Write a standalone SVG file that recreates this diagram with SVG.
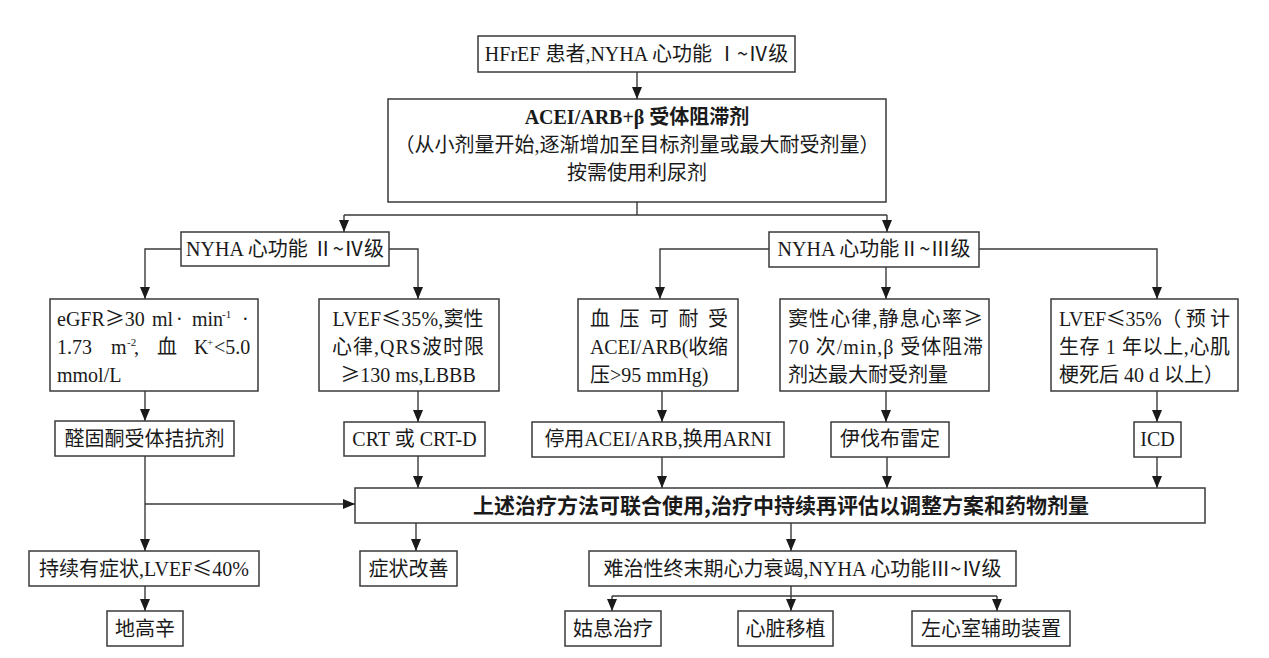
<svg xmlns="http://www.w3.org/2000/svg" width="1269" height="658" viewBox="0 0 1269 658">
<defs>
<marker id="ah" viewBox="0 0 12 10" refX="12" refY="5" markerWidth="12" markerHeight="10" markerUnits="userSpaceOnUse" orient="auto">
<path d="M0,0 L12,5 L0,10 z" fill="#1a1a1a"/>
</marker>
<style>
.box{fill:#fff;stroke:#3a3a3a;stroke-width:1.5}
.t{font-family:"Liberation Serif","Noto Sans CJK SC",serif;font-size:20px;fill:#1a1a1a}
.c{text-anchor:middle}
.b{font-weight:bold}
.cj{font-family:"Noto Sans CJK SC",sans-serif}
.bs{font-family:"Noto Sans CJK SC",sans-serif;font-weight:bold;font-size:21px;fill:#1a1a1a;text-anchor:middle}
.sup{font-size:11px}
.ln{fill:none;stroke:#3a3a3a;stroke-width:1.4}
.ar{marker-end:url(#ah)}
</style>
</defs>
<rect width="1269" height="658" fill="#fff"/>

<g id="connectors">
<path class="ln ar" d="M637,72 V99"/>
<path class="ln" d="M637,202 V215 M344,215 H887"/>
<path class="ln ar" d="M344,215 V232"/>
<path class="ln ar" d="M887,215 V232"/>
<path class="ln ar" d="M181,249 H145 V299"/>
<path class="ln ar" d="M389,249 H418 V299"/>
<path class="ln ar" d="M769,249 H660 V299"/>
<path class="ln ar" d="M886,267 V299"/>
<path class="ln ar" d="M979,249 H1157 V299"/>
<path class="ln ar" d="M145,391 V421"/>
<path class="ln ar" d="M418,391 V422"/>
<path class="ln ar" d="M662,391 V422"/>
<path class="ln ar" d="M886,391 V422"/>
<path class="ln ar" d="M1157,391 V422"/>
<path class="ln ar" d="M145,456 V551"/>
<path class="ln ar" d="M145,504 H355"/>
<path class="ln ar" d="M418,456 V488"/>
<path class="ln ar" d="M662,457 V488"/>
<path class="ln ar" d="M887,457 V488"/>
<path class="ln ar" d="M1157,457 V488"/>
<path class="ln ar" d="M416,523 V551"/>
<path class="ln ar" d="M791,523 V551"/>
<path class="ln ar" d="M145,586 V611"/>
<path class="ln" d="M791,586 V596 M612,596 H997"/>
<path class="ln ar" d="M612,596 V611"/>
<path class="ln ar" d="M791,596 V611"/>
<path class="ln ar" d="M997,596 V611"/>
</g>

<g id="n_start">
<rect class="box" x="478" y="36" width="317" height="36"/>
<text class="t c" x="636.5" y="61">HFrEF 患者,NYHA 心功能 <tspan class="cj">Ⅰ~Ⅳ</tspan>级</text>
</g>

<g id="n_basic">
<rect class="box" x="388" y="99" width="498" height="103"/>
<text class="t c b" x="637" y="124">ACEI/ARB+β 受体阻滞剂</text>
<text class="t c" x="637" y="152">（从小剂量开始,逐渐增加至目标剂量或最大耐受剂量）</text>
<text class="t c" x="637" y="180">按需使用利尿剂</text>
</g>

<g id="n_nyha24">
<rect class="box" x="181" y="232" width="208" height="34"/>
<text class="t c" x="285" y="256">NYHA 心功能 <tspan class="cj">Ⅱ~Ⅳ</tspan>级</text>
</g>

<g id="n_nyha23">
<rect class="box" x="769" y="232" width="210" height="35"/>
<text class="t c" x="874" y="256">NYHA 心功能<tspan class="cj">Ⅱ~Ⅲ</tspan>级</text>
</g>

<g id="n_egfr">
<rect class="box" x="50" y="299" width="208" height="92"/>
<text class="t" x="57" y="326">eGFR<tspan class="cj">≥</tspan>30</text>
<text class="t" x="152" y="326">ml</text>
<text class="t" x="176" y="326">·</text>
<text class="t" x="192" y="326">min</text>
<text class="t sup" x="222" y="318">-1</text>
<text class="t" x="242" y="326">·</text>
<text class="t" x="57" y="354">1.73</text>
<text class="t" x="111" y="354">m</text>
<text class="t sup" x="127" y="346">-2</text>
<text class="t" x="134" y="354">,</text>
<text class="t" x="157" y="354">血</text>
<text class="t" x="194" y="354">K</text>
<text class="t sup" x="207" y="346">+</text>
<text class="t" x="214" y="354">&lt;5.0</text>
<text class="t" x="57" y="382">mmol/L</text>
</g>

<g id="n_crtcond">
<rect class="box" x="319" y="299" width="180" height="92"/>
<text class="t c" x="408" y="326" textLength="151" lengthAdjust="spacing">LVEF<tspan class="cj">≤</tspan>35%,窦性</text>
<text class="t c" x="408" y="354" textLength="152" lengthAdjust="spacing">心律,QRS波时限</text>
<text class="t c" x="408" y="382"><tspan class="cj">≥</tspan>130 ms,LBBB</text>
</g>

<g id="n_bp">
<rect class="box" x="578" y="299" width="160" height="92"/>
<text class="t" x="590" y="326" textLength="138" lengthAdjust="spacing">血 压 可 耐 受</text>
<text class="t" x="590" y="354" textLength="138" lengthAdjust="spacing">ACEI/ARB(收缩</text>
<text class="t" x="590" y="382">压&gt;95 mmHg)</text>
</g>

<g id="n_sinus">
<rect class="box" x="780" y="299" width="209" height="92"/>
<text class="t" x="788" y="326" textLength="195" lengthAdjust="spacing">窦性心律,静息心率<tspan class="cj">≥</tspan></text>
<text class="t" x="788" y="354" textLength="195" lengthAdjust="spacing">70 次/min,β 受体阻滞</text>
<text class="t" x="788" y="382">剂达最大耐受剂量</text>
</g>

<g id="n_icdcond">
<rect class="box" x="1051" y="299" width="187" height="92"/>
<text class="t" x="1059" y="326" textLength="171" lengthAdjust="spacing">LVEF<tspan class="cj">≤</tspan>35%（ 预 计</text>
<text class="t" x="1059" y="354" textLength="171" lengthAdjust="spacing">生存 1 年以上,心肌</text>
<text class="t" x="1059" y="382">梗死后 40 d 以上）</text>
</g>

<g id="n_mra">
<rect class="box" x="55" y="421" width="179" height="35"/>
<text class="t c" x="144.5" y="446">醛固酮受体拮抗剂</text>
</g>

<g id="n_crt">
<rect class="box" x="344" y="422" width="141" height="34"/>
<text class="t c" x="414.5" y="446">CRT 或 CRT-D</text>
</g>

<g id="n_arni">
<rect class="box" x="532" y="422" width="252" height="35"/>
<text class="t c" x="658" y="446">停用ACEI/ARB,换用ARNI</text>
</g>

<g id="n_ivab">
<rect class="box" x="831" y="422" width="118" height="35"/>
<text class="t c" x="890" y="446">伊伐布雷定</text>
</g>

<g id="n_icd">
<rect class="box" x="1134" y="422" width="47" height="35"/>
<text class="t c" x="1157.5" y="446">ICD</text>
</g>

<g id="n_combine">
<rect class="box" x="355" y="488" width="850" height="35"/>
<text class="bs" x="781" y="513">上述治疗方法可联合使用,治疗中持续再评估以调整方案和药物剂量</text>
</g>

<g id="n_persist">
<rect class="box" x="29" y="551" width="230" height="35"/>
<text class="t c" x="144" y="576">持续有症状,LVEF<tspan class="cj">≤</tspan>40%</text>
</g>

<g id="n_improve">
<rect class="box" x="360" y="551" width="97" height="35"/>
<text class="t c" x="408.5" y="576">症状改善</text>
</g>

<g id="n_refractory">
<rect class="box" x="589" y="551" width="427" height="35"/>
<text class="t c" x="802.5" y="576">难治性终末期心力衰竭,NYHA 心功能<tspan class="cj">Ⅲ~Ⅳ</tspan>级</text>
</g>

<g id="n_digoxin">
<rect class="box" x="107" y="611" width="76" height="35"/>
<text class="t c" x="145" y="636">地高辛</text>
</g>

<g id="n_palliative">
<rect class="box" x="565" y="611" width="96" height="35"/>
<text class="t c" x="613" y="636">姑息治疗</text>
</g>

<g id="n_transplant">
<rect class="box" x="738" y="611" width="95" height="35"/>
<text class="t c" x="785.5" y="636">心脏移植</text>
</g>

<g id="n_lvad">
<rect class="box" x="912" y="611" width="158" height="35"/>
<text class="t c" x="991" y="636">左心室辅助装置</text>
</g>
</svg>
